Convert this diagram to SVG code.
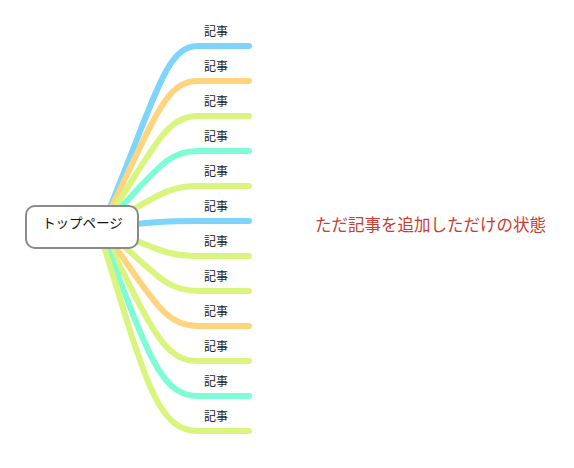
<svg xmlns="http://www.w3.org/2000/svg" width="574" height="468" viewBox="0 0 574 468">
<style>
.b{fill:none;stroke-width:6;stroke-linecap:round}
.c1{stroke:#7fd4fc}.c2{stroke:#ffd47f}.c3{stroke:#d9f57d}.c4{stroke:#7efcd6}
.lb{font-family:"Noto Sans CJK JP","Noto Sans",sans-serif;font-size:12px;fill:#222;text-anchor:middle}
</style>
<rect width="574" height="468" fill="#fff"/>
<g id="connectors">
<path class="b c1" d="M102 227 C156 97 165 46 198 46 L249 46"/>
<path class="b c2" d="M102 227 C156 116 165 81 198 81 L249 81"/>
<path class="b c3" d="M102 227 C156 146 165 116 198 116 L249 116"/>
<path class="b c4" d="M102 227 C156 172 165 151 198 151 L249 151"/>
<path class="b c3" d="M102 227 C156 198 165 186 198 186 L249 186"/>
<path class="b c1" d="M102 227 C156 222 165 221 198 221 L249 221"/>
<path class="b c3" d="M102 227 C156 248 165 256 198 256 L249 256"/>
<path class="b c3" d="M102 227 C156 273 165 291 198 291 L249 291"/>
<path class="b c2" d="M101 227 C153 298 163 326 198 326 L249 326"/>
<path class="b c3" d="M100 227 C150 323 161 361 198 361 L249 361"/>
<path class="b c4" d="M99 227 C147 348 158 396 198 396 L249 396"/>
<path class="b c3" d="M98 227 C144 374 155 431 198 431 L249 431"/>
</g>
<g id="top">
<rect x="26" y="206" width="112" height="42" rx="9" fill="#fff" stroke="#8a8a8a" stroke-width="2"/>
<text x="82.5" y="228" font-family="Noto Sans CJK JP,sans-serif" font-size="13.5" text-anchor="middle" fill="#111">トップページ</text>
</g>
<g id="labels">
<text class="lb" x="216" y="36">記事</text>
<text class="lb" x="216" y="71">記事</text>
<text class="lb" x="216" y="106">記事</text>
<text class="lb" x="216" y="141">記事</text>
<text class="lb" x="216" y="176">記事</text>
<text class="lb" x="216" y="211">記事</text>
<text class="lb" x="216" y="246">記事</text>
<text class="lb" x="216" y="281">記事</text>
<text class="lb" x="216" y="316">記事</text>
<text class="lb" x="216" y="351">記事</text>
<text class="lb" x="216" y="386">記事</text>
<text class="lb" x="216" y="421">記事</text>
</g>
<g id="note">
<text x="315" y="231" font-family="Noto Sans CJK JP,sans-serif" font-size="16.5" fill="#cc3a30">ただ記事を追加しただけの状態</text>
</g>
</svg>
